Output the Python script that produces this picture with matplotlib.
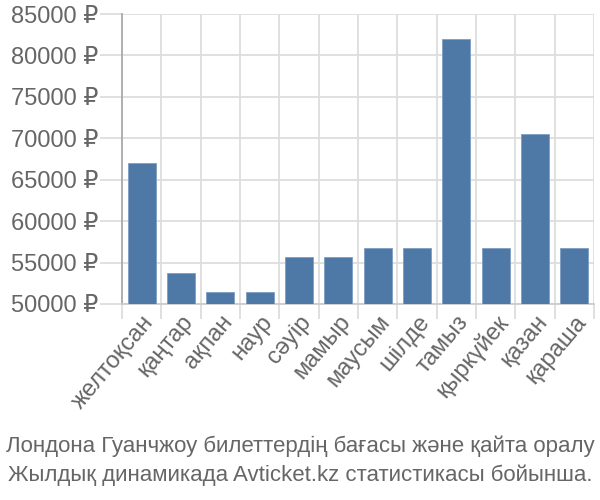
import matplotlib
matplotlib.use("Agg")
import matplotlib.pyplot as plt
import numpy as np

months = ["желтоқсан", "қаңтар", "ақпан", "наур", "сәуір", "мамыр",
          "маусым", "шілде", "тамыз", "қыркүйек", "қазан", "қараша"]
prices = [67000, 53700, 51500, 51500, 55700, 55700,
          56700, 56700, 82000, 56700, 70500, 56700]
yticks = [50000, 55000, 60000, 65000, 70000, 75000, 80000, 85000]
caption = ["Лондона Гуанчжоу билеттердің бағасы және қайта оралу",
           "Жылдық динамикада Avticket.kz статистикасы бойынша."]

plt.rcParams['font.family'] = ['Liberation Sans', 'DejaVu Sans']

fig = plt.figure(figsize=(6, 5), dpi=100)
ax = fig.add_axes([122/600, 1-304/500, (594-122)/600, (304-14)/500])

x = np.arange(len(months))
ax.bar(x, prices, width=0.72, color="#4e79a7", edgecolor="#7e9ec4", linewidth=0.6, zorder=3)
ax.set_xlim(-0.5, len(months) - 0.5)
ax.set_ylim(50000, 85000)

ax.set_yticks(yticks)
ax.set_yticklabels([f"{v} ₽" for v in yticks])
ax.set_xticks(x)
ax.set_xticklabels(months, rotation=50, ha="right", rotation_mode="anchor")
ax.set_xticks(np.arange(-0.5, len(months)), minor=True)

ax.grid(True, which="minor", axis="x", color="#dddddd", linewidth=1.3, zorder=0)
ax.grid(True, which="major", axis="y", color="#dddddd", linewidth=1.3, zorder=0)
ax.tick_params(axis="x", which="major", length=0, pad=5, labelsize=17, labelcolor="#666666")
ax.tick_params(axis="x", which="minor", length=11, color="#dddddd", width=1.3)
ax.tick_params(axis="y", length=16, color="#dddddd", width=1.3, pad=1, labelsize=17, labelcolor="#666666")

for s in ["top", "right"]:
    ax.spines[s].set_visible(False)
ax.spines["left"].set_color("#aaaaaa")
ax.spines["left"].set_linewidth(1.3)
ax.spines["bottom"].set_color("#cccccc")
ax.spines["bottom"].set_linewidth(1.3)

fig.text(0.5, 1-446/500, caption[0], ha="center", va="center", fontsize=16,
         color="#666666")
fig.text(0.5, 1-475/500, caption[1], ha="center", va="center", fontsize=16,
         color="#666666")

fig.savefig("out.png", dpi=100)
